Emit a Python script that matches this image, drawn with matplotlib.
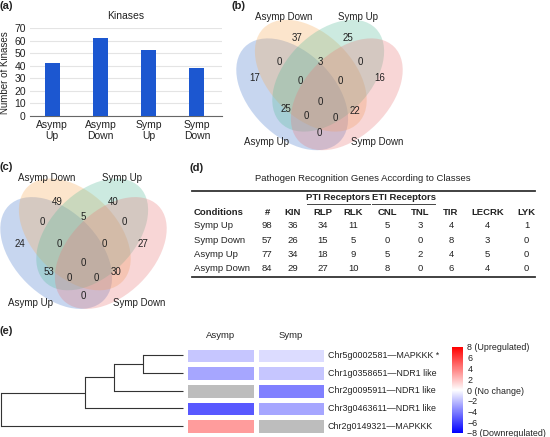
import matplotlib
matplotlib.use("Agg")
import matplotlib.pyplot as plt
import numpy as np
from matplotlib.patches import Ellipse
from matplotlib.colors import LinearSegmentedColormap, Normalize
from matplotlib.cm import ScalarMappable

# ---- data ----
kinase_groups = ["Asymp\nUp", "Asymp\nDown", "Symp\nUp", "Symp\nDown"]
kinase_counts = [42, 62, 53, 38]

venn_sets = ["Asymp Up", "Asymp Down", "Symp Up", "Symp Down"]
venn_regions = ["1000", "0100", "0010", "0001", "1100", "1010", "1001", "0110",
                "0101", "0011", "1110", "1101", "1011", "0111", "1111"]
venn_b_counts = [17, 37, 25, 16, 0, 25, 0, 3, 22, 0, 0, 0, 0, 0, 0]
venn_c_counts = [24, 49, 40, 27, 0, 53, 0, 5, 30, 0, 0, 0, 0, 0, 0]

table_title = "Pathogen Recognition Genes According to Classes"
conditions = ["Symp Up", "Symp Down", "Asymp Up", "Asymp Down"]
table_cols = ["#", "KIN", "RLP", "RLK", "CNL", "TNL", "TIR", "LECRK", "LYK"]
table_vals = [[98, 36, 34, 11, 5, 3, 4, 4, 1],
              [57, 26, 15, 5, 0, 0, 8, 3, 0],
              [77, 34, 18, 9, 5, 2, 4, 5, 0],
              [84, 29, 27, 10, 8, 0, 6, 4, 0]]

heat_cols = ["Asymp", "Symp"]
genes = ["Chr5g0002581\u2014MAPKKK *", "Chr1g0358651\u2014NDR1 like",
         "Chr2g0095911\u2014NDR1 like", "Chr3g0463611\u2014NDR1 like",
         "Chr2g0149321\u2014MAPKKK"]
asymp_fc = [-1.8, -2.8, np.nan, -5.2, 3.1]
symp_fc = [-1.1, -1.8, -4.0, -2.8, np.nan]
# dendrogram merges (child a, child b, height); leaves 0..4, new nodes 5..
merges = [(0, 1, 0.22), (5, 2, 0.38), (6, 3, 0.54), (7, 4, 1.0)]
cbar_ticks = [8, 6, 4, 2, 0, -2, -4, -6, -8]
cbar_labels = ["8 (Upregulated)", "6", "4", "2", "0 (No change)",
               "\u22122", "\u22124", "\u22126", "\u22128 (Downregulated)"]

# ---- layout helpers ----
W, H = 550, 437
plt.rcParams['font.family'] = ['Liberation Sans', 'DejaVu Sans']
TXT = '#222222'


def box(left, top, width, height):
    return [left / W, 1 - (top + height) / H, width / W, height / H]


fig = plt.figure(figsize=(W / 100, H / 100), dpi=100)

for lab, px, py in [("(a)", 0, 6), ("(b)", 232, 6), ("(c)", 0, 167),
                    ("(d)", 190, 168), ("(e)", 0, 331)]:
    fig.text(px / W, 1 - py / H, lab, fontsize=8, fontweight='bold',
             va='center', ha='left', color=TXT)

# ---- (a) bar chart ----
ax = fig.add_axes(box(30, 28.3, 192, 87.7))
xpos = np.arange(len(kinase_counts))
ax.bar(xpos, kinase_counts, width=0.31, color='#1c57d0', zorder=3)
ax.set_xlim(-0.46, 3.52)
ax.set_ylim(0, 70)
ax.set_yticks(range(0, 71, 10))
ax.set_xticks(xpos)
ax.set_xticklabels(kinase_groups, linespacing=1.1)
ax.grid(axis='y', color='#e4e4e4', lw=0.8, zorder=0)
for s in ['top', 'right', 'left']:
    ax.spines[s].set_visible(False)
ax.spines['bottom'].set_color('#666666')
ax.tick_params(length=0, labelsize=7.5, colors=TXT, pad=3)
ax.set_ylabel("Number of Kinases", fontsize=7, color=TXT, labelpad=3)
ax.set_title("Kinases", fontsize=7.5, color=TXT, pad=7)

# ---- (b), (c) venn diagrams ----
ell_centres = [(-27.3, -9.3), (-8.7, 9.3), (8.7, 9.3), (27.3, -9.3)]
ell_angles = [135, 135, 45, 45]
ell_colours = ['#487acd', '#f8ac58', '#58bc9b', '#e87a7a']

spots_b = [(-64.5, 7.3), (-22.2, 46.7), (28.2, 46.7), (59.8, 7.3),
           (-40.2, 23.3), (-33.5, -24), (-0.5, -48.3), (1.2, 23.3),
           (35.5, -26), (40.5, 23.3), (-19.5, 4), (15.5, -33.3),
           (-13.5, -30.7), (21.2, 4), (0.5, -16.7)]
names_b = [(-52.8, -56.7), (-36.2, 68.3), (38.8, 68.3), (57.2, -56.7)]
spots_c = [(-63.5, -0.3), (-26.2, 42), (29.8, 42), (59.8, -0.3),
           (-40.8, 22), (-34.5, -28), (-0.2, -52.3), (-0.2, 26.4),
           (32.5, -28), (40.5, 22), (-24.2, -0.3), (13.2, -34.6),
           (-14.2, -34.6), (20.8, -0.3), (-0.2, -19.6)]
names_c = [(-53.5, -59), (-36.8, 65.4), (38.2, 65.4), (55.8, -59)]


def draw_venn(cx, cy, counts, spots, names, yscale=1.0):
    vax = fig.add_axes(box(cx - 100, cy - 80, 200, 160))
    vax.set_xlim(-100, 100)
    vax.set_ylim(-80, 80)
    vax.axis('off')
    for (ex, ey), ang, col in zip(ell_centres, ell_angles, ell_colours):
        vax.add_patch(Ellipse((ex, ey * yscale), 134, 84, angle=ang,
                              facecolor=col, alpha=0.3, lw=0))
    for n, (tx, ty) in zip(counts, spots):
        vax.text(tx, ty, str(n), fontsize=7, ha='center', va='center', color=TXT)
    for nm, (tx, ty) in zip(venn_sets, names):
        vax.text(tx, ty, nm, fontsize=7, ha='center', va='center', color=TXT)


draw_venn(319.5, 85, venn_b_counts, spots_b, names_b)
draw_venn(83.5, 243.7, venn_c_counts, spots_c, names_c)

# ---- (d) table ----
tax = fig.add_axes(box(188, 170, 352, 115))
tax.set_xlim(188, 540)
tax.set_ylim(285, 170)
tax.axis('off')
col_x = [267.3, 292.7, 322.7, 353.3, 387.3, 420, 451, 487.7, 526.7]
row_y = [225.7, 240, 254.3, 268.7]
fs = 6.8
tax.text(363, 178, table_title, fontsize=fs, ha='center', va='center', color=TXT)
tax.plot([192, 535], [190.7, 190.7], color='#333333', lw=1.3)
tax.plot([192, 535], [276.7, 276.7], color='#333333', lw=1.3)
for grp, x0, x1 in [("PTI Receptors", 307, 370), ("ETI Receptors", 372, 435)]:
    tax.text((x0 + x1) / 2, 197.5, grp, fontsize=fs, fontweight='bold',
             ha='center', va='center', color=TXT)
    tax.plot([x0, x1], [204, 204], color='#444444', lw=0.7)
tax.text(194, 212, "Conditions", fontsize=fs, fontweight='bold', ha='left',
         va='center', color=TXT)
for c, x in zip(table_cols, col_x):
    tax.text(x, 212, c, fontsize=fs, fontweight='bold', ha='center',
             va='center', color=TXT)
for cond, vals, y in zip(conditions, table_vals, row_y):
    tax.text(194, y, cond, fontsize=fs, ha='left', va='center', color=TXT)
    for v, x in zip(vals, col_x):
        tax.text(x, y, str(v), fontsize=fs, ha='center', va='center', color=TXT)

# ---- (e) heatmap + dendrogram ----
cmap = LinearSegmentedColormap.from_list('bwr_fc', ['#0000ff', '#ffffff', '#ff0000'])
cmap.set_bad('#bdbdbd')
norm = Normalize(-8, 8)
fc = np.ma.masked_invalid(np.column_stack([asymp_fc, symp_fc]))

hax = fig.add_axes(box(185.3, 346.5, 140.4, 88.5))
hax.pcolormesh(fc, cmap=cmap, norm=norm, edgecolors='white', linewidth=2.4)
hax.set_xlim(0, 2)
hax.set_ylim(len(genes), 0)
hax.axis('off')
for j, c in enumerate(heat_cols):
    hax.text(j + 0.5, -0.35, c, fontsize=6.8, ha='center', va='bottom', color=TXT)
for i, g in enumerate(genes):
    hax.text(2.03, i + 0.5, g, fontsize=6.4, ha='left', va='center', color=TXT)

dax = fig.add_axes(box(0.7, 346.5, 182.6, 88.5))
dax.set_xlim(1.0, 0.0)
dax.set_ylim(len(genes), 0)
dax.axis('off')
node_y = {i: i + 0.5 for i in range(len(genes))}
node_h = {i: 0.0 for i in range(len(genes))}
for k, (a, b, h) in enumerate(merges):
    for child in (a, b):
        dax.plot([node_h[child], h], [node_y[child], node_y[child]],
                 color='#333333', lw=0.8, clip_on=False, solid_capstyle='butt')
    dax.plot([h, h], [node_y[a], node_y[b]], color='#333333', lw=0.8,
             clip_on=False, solid_capstyle='projecting')
    new = len(genes) + k
    node_y[new] = (node_y[a] + node_y[b]) / 2
    node_h[new] = h

cax = fig.add_axes(box(451.7, 347, 11.6, 86))
cb = fig.colorbar(ScalarMappable(norm=norm, cmap=cmap), cax=cax)
cb.outline.set_visible(False)
cb.set_ticks(cbar_ticks)
cb.set_ticklabels(cbar_labels)
cax.tick_params(length=0, labelsize=6.4, colors=TXT, pad=3)

fig.savefig("out.png", dpi=100)
